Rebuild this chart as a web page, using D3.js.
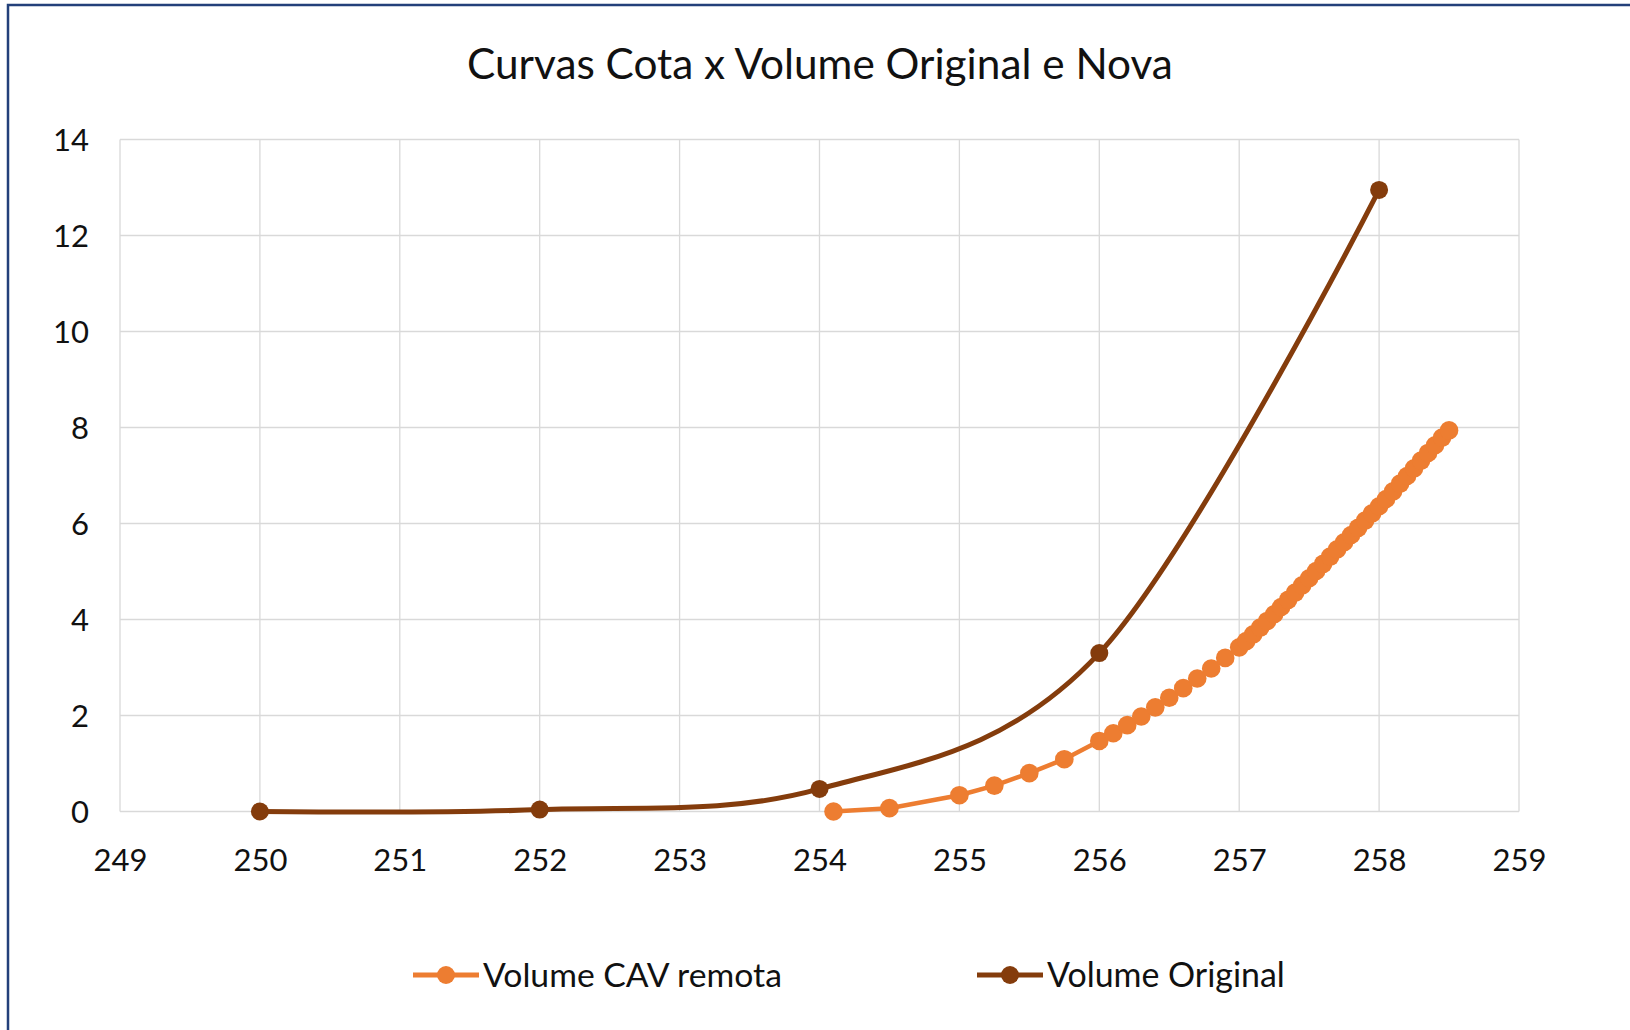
<!DOCTYPE html>
<html>
<head>
<meta charset="utf-8">
<script src="https://cdn.jsdelivr.net/npm/d3@7"></script>
<style>
  body { margin: 0; background: #fff; }
  text { font-family: Lato, "Open Sans", sans-serif; fill: #111; }
  .grid line { stroke: #d9d9d9; stroke-width: 1.3; }
</style>
</head>
<body>
<div id="chart"></div>
<script>
// Curva cota x volume: original e nova (CAV remota)
var xTicks = [249, 250, 251, 252, 253, 254, 255, 256, 257, 258, 259];
var yTicks = [0, 2, 4, 6, 8, 10, 12, 14];

var origCota = [250, 252, 254, 256, 258];
var origVolume = [0, 0.04, 0.47, 3.3, 12.95];

var cavCota = [254.1, 254.5, 255, 255.25, 255.5, 255.75, 256,
	256.1, 256.2, 256.3, 256.4, 256.5, 256.6, 256.7, 256.8, 256.9,
	257, 257.05, 257.1, 257.15, 257.2, 257.25, 257.3, 257.35, 257.4, 257.45,
	257.5, 257.55, 257.6, 257.65, 257.7, 257.75, 257.8, 257.85, 257.9, 257.95,
	258, 258.05, 258.1, 258.15, 258.2, 258.25, 258.3, 258.35, 258.4, 258.45, 258.5];
var cavVolume = [0, 0.07, 0.34, 0.54, 0.8, 1.09, 1.47,
	1.63, 1.8, 1.98, 2.17, 2.37, 2.57, 2.77, 2.98, 3.2,
	3.42, 3.55, 3.69, 3.83, 3.97, 4.11, 4.26, 4.41, 4.56, 4.71,
	4.86, 5.01, 5.16, 5.31, 5.46, 5.61, 5.76, 5.91, 6.06, 6.21,
	6.36, 6.51, 6.67, 6.83, 6.99, 7.15, 7.31, 7.47, 7.63, 7.79, 7.94];

var seriesNames = ["Volume CAV remota", "Volume Original"];
var seriesColors = ["#ed7d31", "#843c0c"];

var width = 1630, height = 1030;
var plotLeft = 120, plotRight = 1519, plotTop = 139.5, plotBottom = 811.5;

var x = d3.scaleLinear().domain([249, 259]).range([plotLeft, plotRight]);
var y = d3.scaleLinear().domain([0, 14]).range([plotBottom, plotTop]);

var svg = d3.select("#chart").append("svg")
		.attr("width", width)
		.attr("height", height);

svg.append("rect")
		.attr("width", width)
		.attr("height", height)
		.attr("fill", "#fff");

// frame of the chart object (only left and top edges are visible)
svg.append("path")
		.attr("d", "M8," + height + "V5H" + width)
		.attr("fill", "none")
		.attr("stroke", "#23407a")
		.attr("stroke-width", 2.5);

// shrink/grow a text so it covers the wanted width
function fitWidth(sel, target) {
	var node = sel.node();
	var size = parseFloat(sel.attr("font-size"));
	var w = node.getComputedTextLength();
	if (w > 0) sel.attr("font-size", size * target / w);
}

var title = svg.append("text")
		.attr("x", 820)
		.attr("y", 79)
		.attr("text-anchor", "middle")
		.attr("font-size", 40)
		.text("Curvas Cota x Volume Original e Nova");
fitWidth(title, 706);

// gridlines
var grid = svg.append("g").attr("class", "grid");
grid.selectAll(".vx")
		.data(xTicks)
	.enter().append("line")
		.attr("x1", function(d) { return x(d); })
		.attr("x2", function(d) { return x(d); })
		.attr("y1", plotTop)
		.attr("y2", plotBottom);
grid.selectAll(".hy")
		.data(yTicks)
	.enter().append("line")
		.attr("x1", plotLeft)
		.attr("x2", plotRight)
		.attr("y1", function(d) { return y(d); })
		.attr("y2", function(d) { return y(d); });

// axes, labels only
var xAxis = d3.axisBottom(x).tickValues(xTicks).tickSize(0).tickPadding(0);
var yAxis = d3.axisLeft(y).tickValues(yTicks).tickSize(0).tickPadding(0);

var gx = svg.append("g")
		.attr("transform", "translate(0," + plotBottom + ")")
		.call(xAxis);
gx.select(".domain").remove();
gx.selectAll("text")
		.attr("font-size", 31)
		.attr("font-family", null)
		.attr("dy", null)
		.attr("y", 59);

var gy = svg.append("g")
		.attr("transform", "translate(89,0)")
		.call(yAxis);
gy.select(".domain").remove();
gy.selectAll("text")
		.attr("font-size", 31)
		.attr("font-family", null)
		.attr("dy", "0.36em")
		.attr("x", 0);

svg.selectAll(".tick text").style("fill", "#111");

// series
var cavData = cavCota.map(function(c, i) { return { x: c, y: cavVolume[i] }; });
var origData = origCota.map(function(c, i) { return { x: c, y: origVolume[i] }; });

var straight = d3.line()
		.x(function(d) { return x(d.x); })
		.y(function(d) { return y(d.y); });

var smooth = d3.line()
		.curve(d3.curveCardinal.tension(0))
		.x(function(d) { return x(d.x); })
		.y(function(d) { return y(d.y); });

svg.append("path")
		.datum(cavData)
		.attr("d", straight)
		.attr("fill", "none")
		.attr("stroke", seriesColors[0])
		.attr("stroke-width", 4.5);

svg.append("g").selectAll("circle")
		.data(cavData)
	.enter().append("circle")
		.attr("cx", function(d) { return x(d.x); })
		.attr("cy", function(d) { return y(d.y); })
		.attr("r", 9.3)
		.attr("fill", seriesColors[0]);

svg.append("path")
		.datum(origData)
		.attr("d", smooth)
		.attr("fill", "none")
		.attr("stroke", seriesColors[1])
		.attr("stroke-width", 5);

svg.append("g").selectAll("circle")
		.data(origData)
	.enter().append("circle")
		.attr("cx", function(d) { return x(d.x); })
		.attr("cy", function(d) { return y(d.y); })
		.attr("r", 9)
		.attr("fill", seriesColors[1]);

// legend
var legendX = [413, 977];
var legendWidths = [299, 238];
var legend = svg.selectAll(".legend")
		.data(seriesNames)
	.enter().append("g")
		.attr("class", "legend")
		.attr("transform", function(d, i) { return "translate(" + legendX[i] + ",975)"; });

legend.append("line")
		.attr("x1", 0)
		.attr("x2", 66)
		.attr("stroke", function(d, i) { return seriesColors[i]; })
		.attr("stroke-width", 5);

legend.append("circle")
		.attr("cx", 33)
		.attr("r", 9)
		.attr("fill", function(d, i) { return seriesColors[i]; });

legend.append("text")
		.attr("x", 70)
		.attr("dy", "0.36em")
		.attr("font-size", 34)
		.text(function(d) { return d; })
		.each(function(d, i) { fitWidth(d3.select(this), legendWidths[i]); });
</script>
</body>
</html>
